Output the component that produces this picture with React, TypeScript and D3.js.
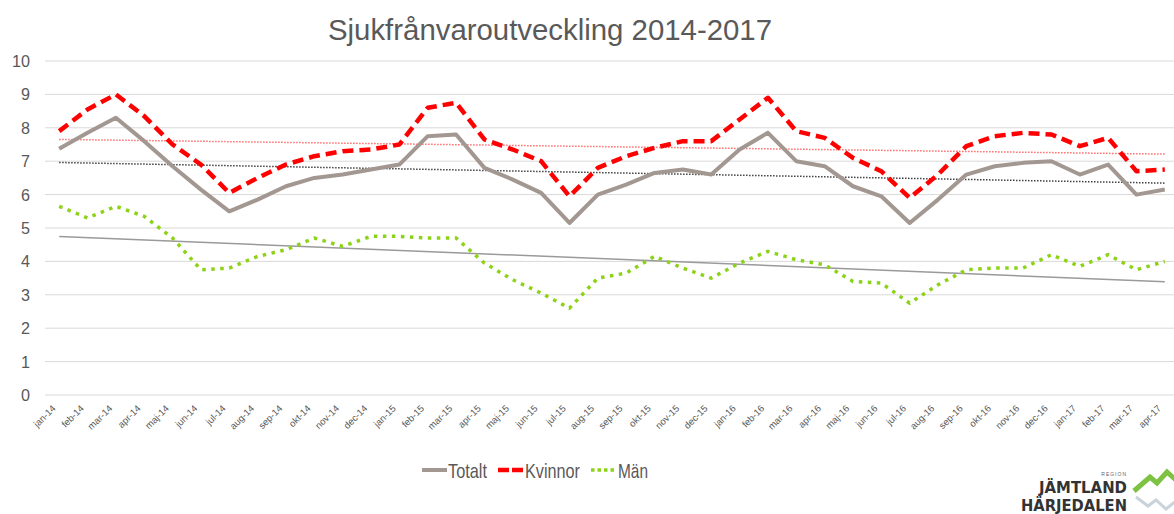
import React from "react";
import * as d3 from "d3";

const months = [
  "jan-14","feb-14","mar-14","apr-14","maj-14","jun-14","jul-14","aug-14","sep-14","okt-14","nov-14","dec-14",
  "jan-15","feb-15","mar-15","apr-15","maj-15","jun-15","jul-15","aug-15","sep-15","okt-15","nov-15","dec-15",
  "jan-16","feb-16","mar-16","apr-16","maj-16","jun-16","jul-16","aug-16","sep-16","okt-16","nov-16","dec-16",
  "jan-17","feb-17","mar-17","apr-17",
];

const totalt = [
  7.37, 7.85, 8.3, 7.6, 6.85, 6.15, 5.5, 5.85, 6.25, 6.5, 6.6, 6.75,
  6.9, 7.75, 7.8, 6.8, 6.45, 6.05, 5.15, 6.0, 6.3, 6.65, 6.75, 6.6,
  7.35, 7.85, 7.0, 6.85, 6.25, 5.95, 5.15, 5.85, 6.6, 6.85, 6.95, 7.0,
  6.6, 6.9, 6.0, 6.15,
];

const kvinnor = [
  7.9, 8.55, 9.0, 8.35, 7.5, 6.9, 6.05, 6.5, 6.9, 7.15, 7.3, 7.35,
  7.5, 8.6, 8.75, 7.65, 7.35, 7.0, 5.95, 6.8, 7.15, 7.4, 7.6, 7.6,
  8.25, 8.9, 7.9, 7.7, 7.1, 6.7, 5.9, 6.6, 7.45, 7.75, 7.85, 7.8,
  7.45, 7.7, 6.7, 6.75,
];

const man = [
  5.65, 5.3, 5.65, 5.35, 4.7, 3.75, 3.8, 4.15, 4.35, 4.7, 4.45, 4.75,
  4.75, 4.7, 4.7, 3.95, 3.45, 3.05, 2.6, 3.5, 3.65, 4.15, 3.8, 3.5,
  3.95, 4.3, 4.05, 3.9, 3.4, 3.35, 2.75, 3.3, 3.75, 3.8, 3.8, 4.2,
  3.85, 4.2, 3.75, 4.0,
];

const yTicks = [0, 1, 2, 3, 4, 5, 6, 7, 8, 9, 10];
const title = "Sjukfrånvaroutveckling 2014-2017";
const seriesNames = ["Totalt", "Kvinnor", "Män"];

function trend(vals: number[]): [number, number] {
  const n = vals.length;
  const xs = vals.map((_, i) => i);
  const mx = d3.mean(xs)!;
  const my = d3.mean(vals)!;
  let num = 0, den = 0;
  for (let i = 0; i < n; i++) {
    num += (xs[i] - mx) * (vals[i] - my);
    den += (xs[i] - mx) ** 2;
  }
  const b = num / den;
  const a = my - b * mx;
  return [a, a + b * (n - 1)];
}

export default function App() {
  const W = 1174, H = 514;
  const left = 45, right = 1179, top = 61, bottom = 395;
  const x = d3.scaleBand<string>().domain(months).range([left, right]);
  const cx = (m: string) => x(m)! + x.bandwidth() / 2;
  const y = d3.scaleLinear().domain([0, 10]).range([bottom, top]);
  const line = d3.line<number>().x((_, i) => cx(months[i])).y((v) => y(v));
  const font = "'Liberation Sans', Arial, sans-serif";
  const txt = "#595959";

  const tT = trend(totalt), tK = trend(kvinnor), tM = trend(man);
  const firstX = cx(months[0]);
  const lastX = cx(months[months.length - 1]);

  const lgY = 470;
  const narrow = "'Liberation Sans Narrow', 'DejaVu Sans Condensed', sans-serif";

  return (
    <svg width={W} height={H} style={{ position: "absolute", left: 0, top: 0, background: "#fff" }} fontFamily={font}>
      <rect width={W} height={H} fill="#fff" />
      <text x={550} y={40} textAnchor="middle" fontSize={29} fill={txt} textLength={444} lengthAdjust="spacingAndGlyphs">{title}</text>

      {yTicks.map((t) => (
        <g key={t}>
          <line x1={left} x2={W} y1={y(t)} y2={y(t)} stroke="#D9D9D9" strokeWidth={1} />
          <text x={30} y={y(t) + 6} textAnchor="end" fontSize={17} fill={txt} textLength={t === 10 ? 18 : 9} lengthAdjust="spacingAndGlyphs">{t}</text>
        </g>
      ))}

      {months.map((m) => (
        <text key={m} transform={`translate(${cx(m) - 3},${409}) rotate(-45)`} textAnchor="end" fontSize={9.5} fill={txt}>{m}</text>
      ))}

      {/* trend lines */}
      <line x1={firstX} x2={lastX} y1={y(tK[0])} y2={y(tK[1])} stroke="#FF6B6B" strokeWidth={1.5} strokeDasharray="1.5,1.5" />
      <line x1={firstX} x2={lastX} y1={y(tT[0])} y2={y(tT[1])} stroke="#404040" strokeWidth={1.5} strokeDasharray="1.5,1.5" />
      <line x1={firstX} x2={lastX} y1={y(tM[0])} y2={y(tM[1])} stroke="#9A9A9A" strokeWidth={1.5} />

      {/* series */}
      <path d={line(man)!} fill="none" stroke="#8CD317" strokeWidth={3.5} strokeDasharray="3.5,5.5" />
      <path d={line(totalt)!} fill="none" stroke="#A39891" strokeWidth={4} strokeLinejoin="round" />
      <path d={line(kvinnor)!} fill="none" stroke="#FF0000" strokeWidth={4.5} strokeDasharray="11,6" strokeLinejoin="round" />

      {/* legend */}
      <line x1={422} x2={447} y1={lgY} y2={lgY} stroke="#A39891" strokeWidth={4} />
      <text x={448} y={lgY + 7.5} fontSize={21} fill={txt} textLength={39} lengthAdjust="spacingAndGlyphs">{seriesNames[0]}</text>
      <line x1={498} x2={523} y1={lgY} y2={lgY} stroke="#FF0000" strokeWidth={4.5} strokeDasharray="11,3" />
      <text x={525} y={lgY + 7.5} fontSize={21} fill={txt} textLength={55} lengthAdjust="spacingAndGlyphs">{seriesNames[1]}</text>
      <line x1={591} x2={614} y1={lgY} y2={lgY} stroke="#8CD317" strokeWidth={3.5} strokeDasharray="3.5,3" />
      <text x={618} y={lgY + 7.5} fontSize={21} fill={txt} textLength={30} lengthAdjust="spacingAndGlyphs">{seriesNames[2]}</text>

      {/* logo */}
      <text x={1127} y={476} textAnchor="end" fontSize={5} fill="#666" letterSpacing={1}>REGION</text>
      <text x={1127} y={493} textAnchor="end" fontSize={15} fontWeight="bold" fill="#333" fontFamily={narrow} textLength={88} lengthAdjust="spacingAndGlyphs">JÄMTLAND</text>
      <text x={1127} y={511} textAnchor="end" fontSize={15} fontWeight="bold" fill="#333" fontFamily={narrow} textLength={106} lengthAdjust="spacingAndGlyphs">HÄRJEDALEN</text>
      <polyline points="1134,491 1150,477 1157,483 1167,472 1176,480" fill="none" stroke="#7DC242" strokeWidth={5} strokeLinejoin="miter" />
      <polyline points="1136,497 1148,506 1156,500 1166,509 1176,501" fill="none" stroke="#C9D3DA" strokeWidth={3} />
    </svg>
  );
}
